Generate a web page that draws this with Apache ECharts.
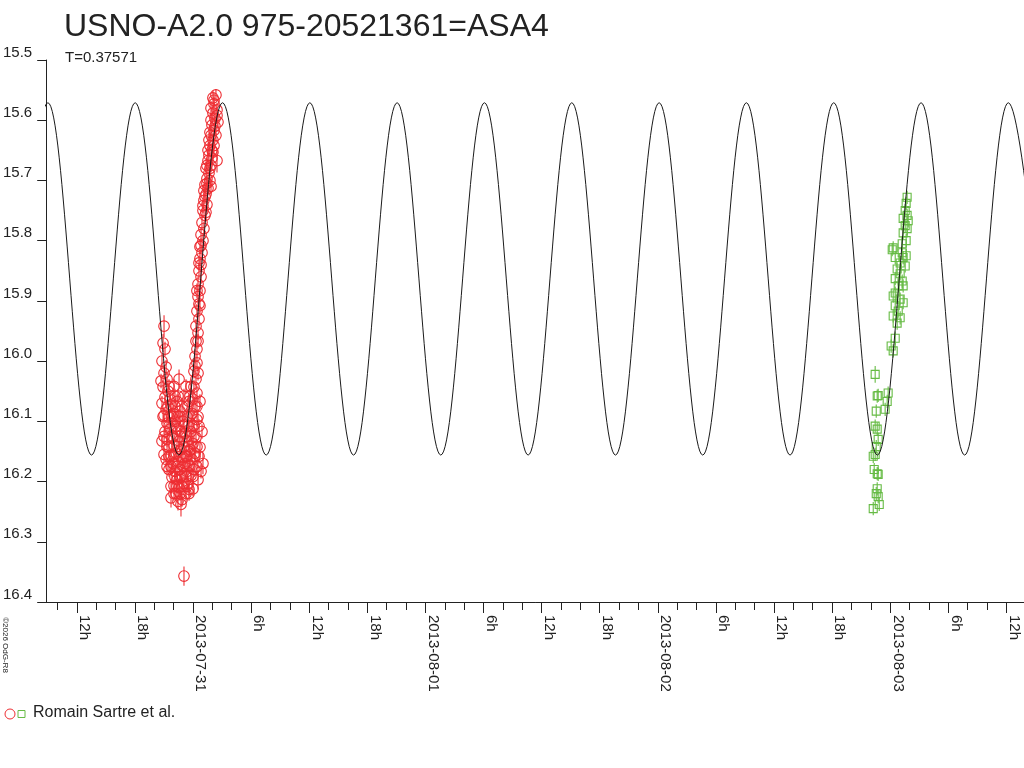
<!DOCTYPE html>
<html>
<head>
<meta charset="utf-8">
<title>USNO-A2.0 975-20521361=ASA4</title>
<script src="https://cdn.jsdelivr.net/npm/echarts@6/dist/echarts.min.js"></script>
<style>
html, body { margin: 0; padding: 0; background: #fff; }
#main { width: 1024px; height: 768px; }
</style>
</head>
<body>
<div id="main"></div>
<script>
// x values are hours since 2013-07-30 00:00, y values are magnitudes
// red observations: [hours, mag, (error)]
const redObs = [
  [26.37,15.558,0.01],[26.06,15.563],[26.17,15.573],[25.86,15.58],[26.48,15.583],[26.06,15.588],
  [26.27,15.597],[26.58,15.603],[25.96,15.608],[26.27,15.61],[26.17,15.617],[25.75,15.62],
  [25.86,15.625],[26.06,15.633],[25.75,15.642],[26.17,15.642],[25.96,15.65],[25.55,15.65],
  [25.65,15.658],[25.96,15.663],[26.48,15.667,0.02],[25.55,15.667],[25.86,15.675],[25.44,15.675],
  [25.34,15.68],[25.65,15.688],[25.44,15.697],[25.75,15.70],[25.24,15.707],[25.86,15.71],
  [25.55,15.713],[25.13,15.717],[25.34,15.723],[25.13,15.733],[25.44,15.74],[25.03,15.75],
  [25.24,15.758],[24.93,15.77],[25.13,15.78],[24.83,15.79],[25.03,15.80],[24.72,15.81],
  [24.93,15.82],[24.72,15.83],[24.83,15.84],[24.62,15.85],[24.83,15.86],[24.52,15.872],
  [24.72,15.883],[24.52,15.893],[24.62,15.905],[24.41,15.917],[24.62,15.93],[24.31,15.942],
  [24.52,15.953],[24.31,15.967],[24.41,15.98],[24.21,15.992],[24.41,16.003],[24.10,16.017],
  [24.31,16.03],[24.10,16.043],[24.41,16.053],[24.00,16.063],[24.21,16.075],[23.90,16.087],
  [24.41,16.097],[24.10,16.107],[23.79,16.117],[24.31,16.127],[24.00,16.137],[24.72,16.143],
  [23.69,16.147],[24.21,16.153],[23.90,16.163],[25.03,16.17,0.018],[23.59,16.173],[24.10,16.18],
  [23.79,16.19],[24.52,16.197,0.016],[23.48,16.203],[24.00,16.212],
  [24.72,16.067],[24.93,16.117],[24.62,16.158],[24.83,16.183],
  [26.17,15.567],[26.48,15.592],[25.86,15.60],[26.37,15.625],[25.65,15.633],[26.06,15.653],
  [25.75,15.68],[25.44,15.705],[25.24,15.727],[25.03,15.742],[25.34,15.753],[24.83,15.808],
  [24.62,15.837],[24.41,15.883],[24.72,15.908],[24.52,15.967],[24.21,16.008],[24.52,16.02],
  [21.01,15.942,0.018],[20.91,15.97,0.015],[21.11,15.98],[20.80,16.00],[21.22,16.01],[21.01,16.02],
  [20.70,16.033],[21.32,16.03],[20.91,16.043],[21.42,16.05],[21.11,16.06],[20.80,16.07],
  [21.63,16.063],[21.22,16.08],[21.73,16.073],[21.01,16.09],[21.52,16.093],[21.32,16.103],
  [21.94,16.087],[21.11,16.117],[21.63,16.113],[22.14,16.10],[21.32,16.13],[21.83,16.127],
  [22.35,16.113],[22.56,16.03,0.016],[22.04,16.14],[21.52,16.143],[22.56,16.133],[21.73,16.157],
  [22.25,16.153],[22.76,16.147],[21.22,16.163],[21.94,16.17],[22.45,16.167],[22.97,16.16],
  [21.52,16.18],[22.14,16.183],[22.66,16.18],[23.17,16.17],[21.83,16.193],[22.35,16.197],
  [22.87,16.19],[23.38,16.183],[22.04,16.207],[22.56,16.21],[23.07,16.203],[23.59,16.213],
  [21.73,16.227,0.016],[22.45,16.233,0.015],[22.87,16.23],[22.76,16.238,0.02],[22.25,16.22],
  [23.28,16.22],[23.07,16.357,0.016],[22.35,16.067],[22.66,16.083],[22.97,16.10],[23.17,16.12],
  [23.38,16.133],[23.59,16.15],[22.76,16.117],[23.07,16.142],[22.45,16.092],[22.14,16.058],
  [23.59,16.067],[23.38,16.092],[23.28,16.158],[23.48,16.108],
  [20.80,16.133],[21.01,16.155],[21.32,16.175],
  [21.52,16.042],[22.04,16.042],[23.28,16.042],[23.79,16.042],
  [22.45,16.058],[23.07,16.058],[23.69,16.058],
  [21.42,16.075],[22.14,16.075],[22.87,16.075],[23.48,16.075],[24.41,16.075],
  [20.91,16.092],[21.83,16.092],[22.66,16.092],[23.69,16.092],[24.52,16.092],
  [21.52,16.108],[22.25,16.108],[23.07,16.108],[23.90,16.108],[24.62,16.108],
  [21.01,16.125],[21.94,16.125],[22.66,16.125],[23.38,16.125],[24.10,16.125],
  [21.32,16.142],[22.35,16.142],[23.59,16.142],[24.41,16.142],
  [21.52,16.158],[22.04,16.158],[22.66,16.158],[23.38,16.158],[24.21,16.158],
  [21.73,16.175],[22.35,16.175],[22.97,16.175],[23.69,16.175],[24.41,16.175],
  [22.14,16.192],[22.66,16.192],[23.28,16.192],[24.00,16.192],
  [21.73,16.208],[22.35,16.208],[22.87,16.208],[23.38,16.208],
  [22.04,16.22],[22.66,16.22],[23.59,16.22]
];

// green observations: [hours, mag, (error)]
const greenObs = [
  [97.75,15.728],[97.65,15.738],[97.55,15.75],[97.75,15.758],[97.34,15.763],[97.86,15.767],
  [97.55,15.775],[97.75,15.78],[97.34,15.787],[97.65,15.80],[97.24,15.805],[96.31,15.812],
  [96.21,15.815],[97.24,15.82],[96.52,15.828],[97.34,15.828],[97.65,15.825],[97.03,15.837],
  [97.55,15.842],[96.72,15.847],[97.03,15.855],[96.52,15.863],[97.24,15.867],[96.83,15.875],
  [97.34,15.875],[96.52,15.887],[96.31,15.892],[97.03,15.897],[97.34,15.903],[96.52,15.908],
  [96.83,15.917],[96.31,15.925],[97.03,15.928],[96.72,15.937],[96.52,15.962],[96.10,15.975],
  [96.31,15.983],[94.45,16.022,0.014],[94.66,16.058],[94.76,16.057],[95.79,16.053],[95.69,16.067],
  [95.48,16.08],[94.56,16.083],[94.45,16.108],[94.66,16.113],[94.76,16.13],[94.56,16.142],
  [94.25,16.158],[94.45,16.155],[94.35,16.18],[94.66,16.187],[94.76,16.188],[94.66,16.212],
  [94.56,16.22],[94.76,16.225],[94.87,16.238],[94.25,16.245]
];

// light curve model (T = 0.37571 d): maxima and minima
const modelPeakH = [9.02, 18.03, 27.05, 36.07, 45.08, 54.10, 63.12, 72.14, 81.15, 90.17, 99.19, 108.20];
const modelTroughH = [4.51, 13.52, 22.54, 31.56, 40.58, 49.59, 58.61, 67.63, 76.64, 85.66, 94.68, 103.69, 112.71];
const modelBright = 15.571;
const modelFaint = 16.156;

// x axis ticks
const xTickHours = [12, 18, 24, 30, 36, 42, 48, 54, 60, 66, 72, 78, 84, 90, 96, 102, 108];
const xTickLabels = ['12h', '18h', '2013-07-31', '6h', '12h', '18h', '2013-08-01', '6h', '12h', '18h',
  '2013-08-02', '6h', '12h', '18h', '2013-08-03', '6h', '12h'];
const xMinorHours = [10, 14, 16, 20, 22, 26, 28, 32, 34, 38, 40, 44, 46, 50, 52, 56, 58, 62, 64,
  68, 70, 74, 76, 80, 82, 86, 88, 92, 94, 98, 100, 104, 106];
const xMin = 8.84, xMax = 109.82;

const FONT = '"Liberation Sans", Arial, sans-serif';
const INK = '#222';
const RED = '#ee2e33';
const GREEN = '#66bb44';

let curve = modelPeakH.map(h => [h, modelBright])
  .concat(modelTroughH.map(h => [h, modelFaint]))
  .sort((a, b) => a[0] - b[0]);

function errBar(kind, color, defErr) {
  return function (params, api) {
    let t = api.value(0), m = api.value(1), e = api.value(2);
    if (!(e > 0)) e = defErr;
    let p = api.coord([t, m]);
    let a = api.coord([t, m - e]);
    let b = api.coord([t, m + e]);
    let style = { fill: 'none', stroke: color, lineWidth: 1.1 };
    let mark = kind === 'circle'
      ? { type: 'circle', shape: { cx: p[0], cy: p[1], r: 5.3 }, style: style }
      : { type: 'rect', shape: { x: p[0] - 4, y: p[1] - 4, width: 8, height: 8 }, style: style };
    return {
      type: 'group',
      children: [
        { type: 'line', shape: { x1: p[0], y1: a[1], x2: p[0], y2: b[1] }, style: style },
        mark
      ]
    };
  };
}

let chart = echarts.init(document.getElementById('main'));
chart.setOption({
  animation: false,
  backgroundColor: '#fff',
  grid: { left: 45, right: 0, top: 60, bottom: 166 },
  xAxis: [{
    type: 'value', min: xMin, max: xMax, position: 'bottom',
    axisLine: { show: true, onZero: false, lineStyle: { color: INK, width: 1 } },
    axisTick: { show: true, length: 11, customValues: xTickHours, lineStyle: { color: INK } },
    axisLabel: {
      customValues: xTickHours, rotate: -90, margin: 13, align: 'left', verticalAlign: 'bottom',
      color: INK, fontSize: 15, fontFamily: FONT,
      formatter: v => xTickLabels[xTickHours.indexOf(Math.round(v))]
    },
    splitLine: { show: false }
  }, {
    type: 'value', min: xMin, max: xMax, position: 'bottom',
    axisLine: { show: false, onZero: false },
    axisTick: { show: true, length: 8, customValues: xMinorHours, lineStyle: { color: INK } },
    axisLabel: { show: false },
    splitLine: { show: false }
  }],
  yAxis: {
    type: 'value', inverse: true, min: 15.5, max: 16.4, interval: 0.1,
    axisLine: { show: true, lineStyle: { color: INK, width: 1 } },
    axisTick: { show: true, length: 9, lineStyle: { color: INK } },
    axisLabel: {
      margin: 14, verticalAlign: 'bottom', color: INK, fontSize: 15, fontFamily: FONT,
      formatter: v => v.toFixed(1)
    },
    splitLine: { show: false }
  },
  series: [{
    type: 'custom', name: 'red', dimensions: ['t', 'mag', 'err'], encode: { x: 0, y: 1 },
    data: redObs, renderItem: errBar('circle', RED, 0.012), clip: true, z: 2
  }, {
    type: 'custom', name: 'green', dimensions: ['t', 'mag', 'err'], encode: { x: 0, y: 1 },
    data: greenObs, renderItem: errBar('square', GREEN, 0.011), clip: true, z: 2
  }, {
    type: 'line', name: 'model', data: curve, symbol: 'none', showSymbol: false,
    smooth: 0.364, clip: true, lineStyle: { color: '#1a1a1a', width: 1 }, z: 3
  }],
  graphic: [
    { type: 'text', x: 64, y: 27, style: { text: 'USNO-A2.0 975-20521361=ASA4', font: '32px ' + FONT, fill: INK, verticalAlign: 'middle' } },
    { type: 'text', x: 65, y: 58, style: { text: 'T=0.37571', font: '15px ' + FONT, fill: INK, verticalAlign: 'middle' } },
    { type: 'text', x: 5, y: 645, rotation: -Math.PI / 2, style: { text: '©2026 OdG-R8', font: '8px ' + FONT, fill: INK, align: 'center', verticalAlign: 'middle' } },
    { type: 'circle', shape: { cx: 10, cy: 714, r: 5 }, style: { fill: 'none', stroke: RED, lineWidth: 1 } },
    { type: 'rect', shape: { x: 18, y: 710.5, width: 7, height: 7 }, style: { fill: 'none', stroke: GREEN, lineWidth: 1 } },
    { type: 'text', x: 33, y: 713, style: { text: 'Romain Sartre et al.', font: '16px ' + FONT, fill: INK, verticalAlign: 'middle' } }
  ]
});
</script>
</body>
</html>
